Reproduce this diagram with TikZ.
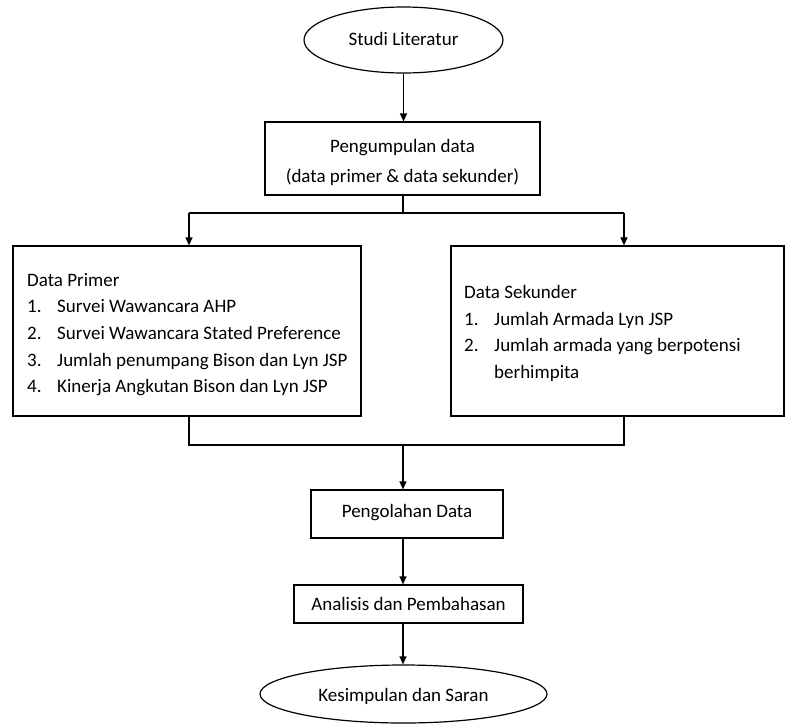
\documentclass[tikz,border=0pt]{standalone}
\usepackage{fontspec}
\setmainfont{Carlito}
\usetikzlibrary{arrows.meta,shapes.geometric}
\begin{document}
\begin{tikzpicture}[x=1pt,y=-1pt,
  every node/.style={font=\fontsize{19}{23}\selectfont},
  box/.style={draw,line width=1.2pt,rectangle,inner sep=0pt},
  oval/.style={draw,line width=1.2pt,ellipse,inner sep=0pt},
  txt/.style={anchor=base west,inner sep=0pt},
  ctxt/.style={anchor=base,inner sep=0pt},
  conn/.style={line width=1.2pt},
  arr/.style={line width=1.2pt,-{Triangle[length=8pt,width=7pt]}}]
\useasboundingbox (0,0) rectangle (785,724);
% shapes
\node[oval,minimum width=199pt,minimum height=66pt] (studi) at (403.5,40) {};
\node[box,minimum width=275pt,minimum height=73pt] (kumpul) at (402.5,158.5) {};
\node[box,minimum width=348pt,minimum height=170pt] (primer) at (187,331) {};
\node[box,minimum width=333pt,minimum height=170pt] (sekunder) at (617.5,331) {};
\node[box,minimum width=192pt,minimum height=48pt] (olah) at (407,514) {};
\node[box,minimum width=229pt,minimum height=38pt] (analisis) at (408.5,604) {};
\node[oval,minimum width=287pt,minimum height=58pt] (simpul) at (403.5,694) {};
% texts
\node[ctxt] (tstudi) at (403.5,45) {Studi Literatur};
\node[ctxt] (tk1) at (402.5,152.7) {Pengumpulan data};
\node[ctxt] (tk2) at (402.5,182.7) {(data primer \& data sekunder)};
\node[txt] (tp0) at (27,286) {Data Primer};
\node[txt] (tp1n) at (27,312.7) {1.};
\node[txt] (tp1) at (57,312.7) {Survei Wawancara AHP};
\node[txt] (tp2n) at (27,339.3) {2.};
\node[txt] (tp2) at (57,339.3) {Survei Wawancara Stated Preference};
\node[txt] (tp3n) at (27,366) {3.};
\node[txt] (tp3) at (57,366) {Jumlah penumpang Bison dan Lyn JSP};
\node[txt] (tp4n) at (27,392.7) {4.};
\node[txt] (tp4) at (57,392.7) {Kinerja Angkutan Bison dan Lyn JSP};
\node[txt] (ts0) at (464,298.7) {Data Sekunder};
\node[txt] (ts1n) at (464,325) {1.};
\node[txt] (ts1) at (494,325) {Jumlah Armada Lyn JSP};
\node[txt] (ts2n) at (464,351.7) {2.};
\node[txt] (ts2) at (494,351.7) {Jumlah armada yang berpotensi};
\node[txt] (ts3) at (494,378.3) {berhimpita};
\node[ctxt] (tolah) at (407,517.3) {Pengolahan Data};
\node[ctxt] (tanalisis) at (408.5,610.7) {Analisis dan Pembahasan};
\node[ctxt] (tsimpul) at (403.5,701.7) {Kesimpulan dan Saran};
% connectors
\coordinate (split) at (403,213);
\coordinate (splitL) at (189,213);
\coordinate (splitR) at (624,213);
\coordinate (joinL) at (189,445);
\coordinate (joinR) at (624,445);
\coordinate (join) at (403,445);
\draw[arr] (studi.south) -- (kumpul.north -| studi.south);
\draw[conn] (kumpul.south -| split) -- (split);
\draw[conn] (splitL) -- (splitR);
\draw[arr] (splitL) -- (splitL |- primer.north);
\draw[arr] (splitR) -- (splitR |- sekunder.north);
\draw[conn] (joinL |- primer.south) -- (joinL) -- (joinR) -- (joinR |- sekunder.south);
\draw[arr] (join) -- (join |- olah.north);
\draw[arr] (olah.south -| join) -- (join |- analisis.north);
\draw[arr] (analisis.south -| join) -- (join |- simpul.north);
\end{tikzpicture}
\end{document}
